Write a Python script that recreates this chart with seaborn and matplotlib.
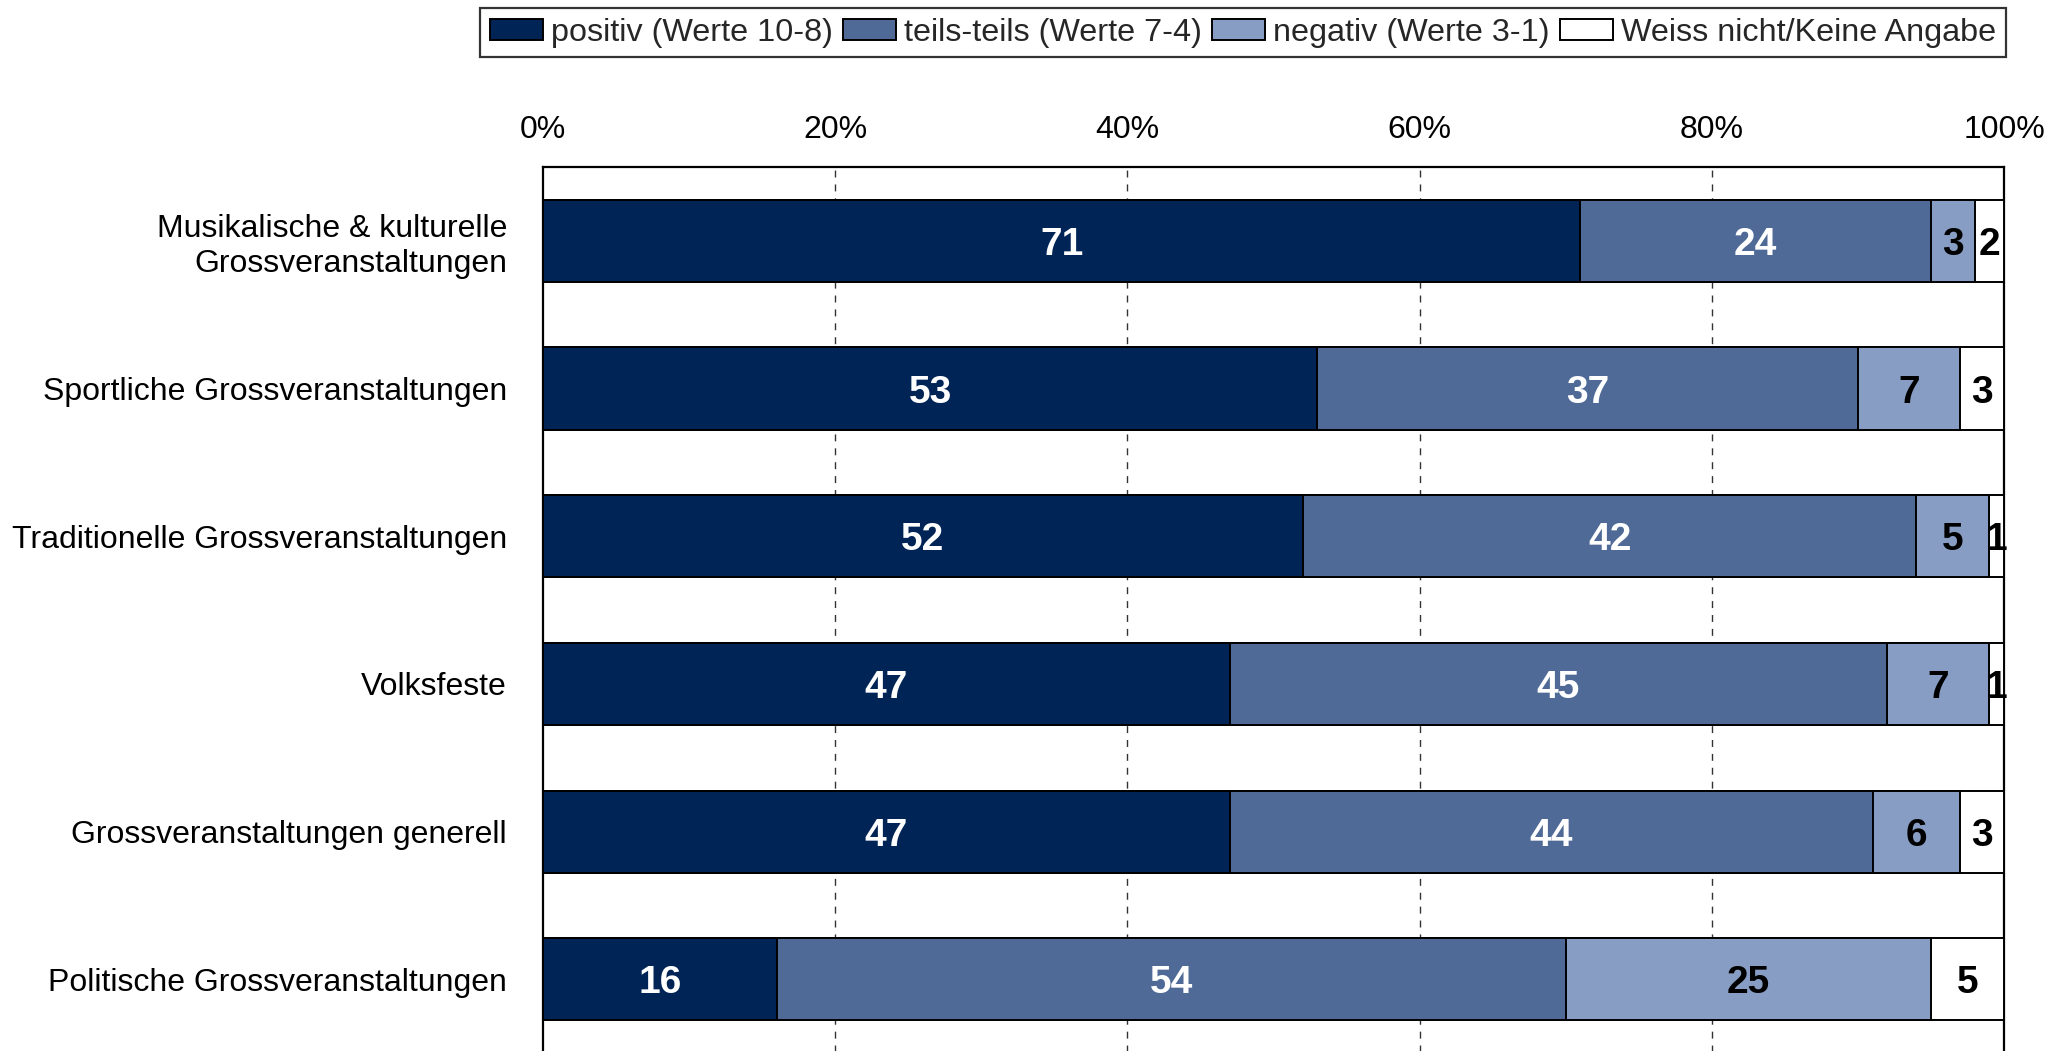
import matplotlib
matplotlib.use("Agg")
import matplotlib.pyplot as plt
from matplotlib.patches import Patch
import numpy as np
import pandas as pd
import seaborn as sns

# Survey items (top to bottom)
categories = [
    "Musikalische & kulturelle\nGrossveranstaltungen",
    "Sportliche Grossveranstaltungen",
    "Traditionelle Grossveranstaltungen",
    "Volksfeste",
    "Grossveranstaltungen generell",
    "Politische Grossveranstaltungen",
]

# Shares in percent per answer group
positiv = [71, 53, 52, 47, 47, 16]
teils = [24, 37, 42, 45, 44, 54]
negativ = [3, 7, 5, 7, 6, 25]
weiss_nicht = [2, 3, 1, 1, 3, 5]

series_names = [
    "positiv (Werte 10-8)",
    "teils-teils (Werte 7-4)",
    "negativ (Werte 3-1)",
    "Weiss nicht/Keine Angabe",
]
series_values = [positiv, teils, negativ, weiss_nicht]
colors = ["#002456", "#4F6A96", "#889DC3", "#FFFFFF"]
label_colors = ["white", "white", "black", "black"]

x_ticks = [0, 20, 40, 60, 80, 100]
x_tick_labels = ["0%", "20%", "40%", "60%", "80%", "100%"]

sns.set_theme(style="white")
plt.rcParams["font.family"] = ["Liberation Sans", "DejaVu Sans"]

fig = plt.figure(figsize=(20.46, 10.51), dpi=100)
ax = fig.add_axes([0.2654, -0.002, 0.7141, 0.8431])

vals = np.array(series_values, dtype=float)
cum = np.cumsum(vals, axis=0)

# Stacked bars: draw cumulative totals from the widest down so each segment shows
for i in range(len(series_names) - 1, -1, -1):
    df = pd.DataFrame({"Kategorie": categories, "Anteil": cum[i]})
    sns.barplot(
        data=df, x="Anteil", y="Kategorie", order=categories, orient="h",
        color=colors[i], saturation=1, width=0.556,
        edgecolor="black", linewidth=1.4, ax=ax, zorder=3,
    )

# Value labels centred in each segment
for i in range(len(series_names)):
    starts = cum[i] - vals[i]
    for j in range(len(categories)):
        ax.text(
            starts[j] + vals[i][j] / 2, j, f"{int(vals[i][j])}",
            ha="center", va="center_baseline", fontsize=28, fontweight="bold",
            color=label_colors[i], zorder=5,
        )

# Dashed vertical gridlines
for t in x_ticks[1:-1]:
    ax.axvline(t, color="#333333", linewidth=1.0, linestyle=(0, (5, 5)), zorder=1)

ax.set_xlim(0, 100)
ax.set_ylim(5.5, -0.5)
ax.xaxis.tick_top()
ax.set_xticks(x_ticks)
ax.set_xticklabels(x_tick_labels, fontsize=23)
ax.tick_params(axis="x", length=0, pad=16, colors="black")
ax.tick_params(axis="y", length=0, pad=26, labelsize=23, colors="black")
ax.set_xlabel("")
ax.set_ylabel("")
for lbl in ax.get_yticklabels():
    lbl.set_horizontalalignment("right")
    lbl.set_multialignment("right")
for s in ax.spines.values():
    s.set_visible(True)
    s.set_color("black")
    s.set_linewidth(1.6)

handles = [Patch(facecolor=c, edgecolor="black", linewidth=1.4) for c in colors]
leg = fig.legend(
    handles, series_names, loc="upper right",
    bbox_to_anchor=(2006 / 2046, 1 - 8 / 1051), ncol=4, fontsize=23.3,
    frameon=True, fancybox=False, shadow=False, handlelength=1.65,
    handleheight=0.6, handletextpad=0.25, columnspacing=0.3,
    borderpad=0.3, borderaxespad=0,
)
leg.get_frame().set_edgecolor("black")
leg.get_frame().set_linewidth(1.6)

fig.savefig("out.png", dpi=100)
